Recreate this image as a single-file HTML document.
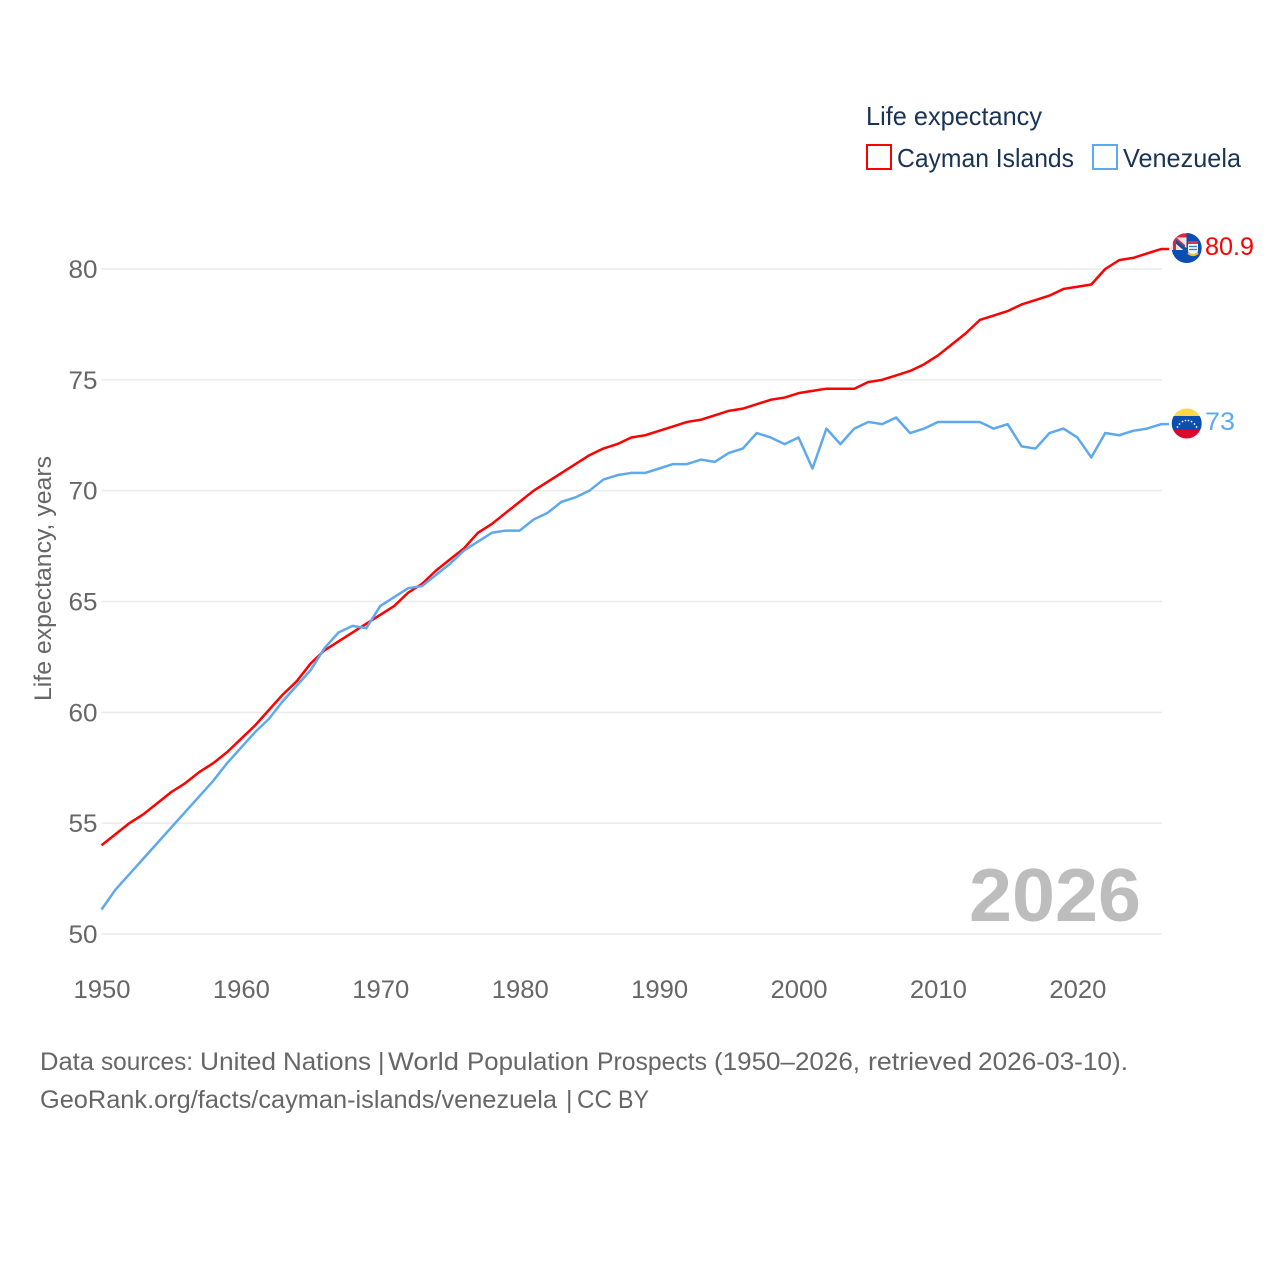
<!DOCTYPE html>
<html lang="en">
<head>
<meta charset="utf-8">
<title>Life expectancy: Cayman Islands and Venezuela</title>
<style>
html,body{margin:0;padding:0;background:#fff;width:1280px;height:1280px;overflow:hidden}
svg{display:block;font-family:"Liberation Sans",sans-serif}
</style>
</head>
<body>
<svg id="chart" xmlns="http://www.w3.org/2000/svg" width="1280" height="1280" viewBox="0 0 1280 1280">
  <defs>
    <clipPath id="flag-ky-clip"><circle cx="1186.700" cy="248" r="15"/></clipPath>
    <clipPath id="flag-ve-clip"><circle cx="1186.700" cy="423.500" r="15"/></clipPath>
  </defs>
  <rect x="0" y="0" width="1280" height="1280" fill="#fff"/>
  <g id="grid"></g>
  <g id="yticks"></g>
  <g id="xticks"></g>
  <text transform="translate(51,701) rotate(-90)" font-size="24" fill="#666" textLength="245" lengthAdjust="spacingAndGlyphs">Life expectancy, years</text>
  <text x="969" y="921" font-size="75" font-weight="700" fill="#bdbdbd" textLength="172" lengthAdjust="spacingAndGlyphs">2026</text>
  <g id="series"></g>

  <g>
    <text x="866" y="125" font-size="26" fill="#1a3354" textLength="176" lengthAdjust="spacingAndGlyphs">Life expectancy</text>
    <rect x="867" y="145" width="24" height="24" fill="#fff" stroke="#ff0000" stroke-width="2"/>
    <text x="897" y="167" font-size="26" fill="#1a3354" textLength="177" lengthAdjust="spacingAndGlyphs">Cayman Islands</text>
    <rect x="1093" y="145" width="24" height="24" fill="#fff" stroke="#5ea8ee" stroke-width="2"/>
    <text x="1123" y="167" font-size="26" fill="#1a3354" textLength="118" lengthAdjust="spacingAndGlyphs">Venezuela</text>
  </g>

  <g clip-path="url(#flag-ky-clip)">
    <rect x="1171" y="232" width="32" height="32" fill="#0a4fb0"/>
    <rect x="1171" y="232" width="15.500" height="18" fill="#f6e6ea"/>
    <path d="M1172 238 L1186 250" stroke="#1b4a9c" stroke-width="3.500"/>
    <path d="M1176 238 L1185 246" stroke="#e0243a" stroke-width="1.500"/>
    <path d="M1171 235.500 H1186.500" stroke="#e0243a" stroke-width="4"/>
    <path d="M1174.500 232 V250" stroke="#e0243a" stroke-width="3"/>
    <path d="M1188 241 h10 v9 q0 5 -5 6 q-5 -1 -5 -6 z" fill="#f4f4f4"/>
    <rect x="1188" y="241" width="10" height="3" fill="#d8344a"/>
    <path d="M1189 246.500 h8 M1189 249.500 h8" stroke="#3b78c4" stroke-width="1.300"/>
    <path d="M1188 253 q5 4 10 0" fill="none" stroke="#e8c23a" stroke-width="2.200"/>
  </g>
  <text x="1205" y="255" font-size="25" fill="#ff0000" textLength="49" lengthAdjust="spacingAndGlyphs">80.9</text>

  <g clip-path="url(#flag-ve-clip)">
    <rect x="1171" y="408" width="32" height="8" fill="#ffd84a"/>
    <rect x="1171" y="416" width="32" height="14" fill="#0a4fb0"/>
    <rect x="1171" y="430" width="32" height="10" fill="#d9082f"/>
    <g fill="#fff">
      <circle cx="1177.500" cy="427" r="0.900"/><circle cx="1179.500" cy="424" r="0.900"/>
      <circle cx="1182.500" cy="421.500" r="0.900"/><circle cx="1185.500" cy="420.500" r="0.900"/>
      <circle cx="1188.500" cy="420.500" r="0.900"/><circle cx="1191.500" cy="421.500" r="0.900"/>
      <circle cx="1194.500" cy="424" r="0.900"/><circle cx="1196.500" cy="427" r="0.900"/>
    </g>
  </g>
  <text x="1205" y="430" font-size="25" fill="#5ea8ee" textLength="30" lengthAdjust="spacingAndGlyphs">73</text>

  <text y="1070" font-size="25" fill="#666" lengthAdjust="spacingAndGlyphs"><tspan x="40" textLength="54" lengthAdjust="spacingAndGlyphs">Data</tspan> <tspan x="101" textLength="92" lengthAdjust="spacingAndGlyphs">sources:</tspan> <tspan x="200" textLength="76" lengthAdjust="spacingAndGlyphs">United</tspan> <tspan x="283" textLength="88" lengthAdjust="spacingAndGlyphs">Nations</tspan> <tspan x="378">|</tspan> <tspan x="388" textLength="71" lengthAdjust="spacingAndGlyphs">World</tspan> <tspan x="467" textLength="122" lengthAdjust="spacingAndGlyphs">Population</tspan> <tspan x="597" textLength="110" lengthAdjust="spacingAndGlyphs">Prospects</tspan> <tspan x="714" textLength="146" lengthAdjust="spacingAndGlyphs">(1950–2026,</tspan> <tspan x="868" textLength="104" lengthAdjust="spacingAndGlyphs">retrieved</tspan> <tspan x="978" textLength="150" lengthAdjust="spacingAndGlyphs">2026-03-10).</tspan></text>
  <text y="1108" font-size="25" fill="#666"><tspan x="40" textLength="517" lengthAdjust="spacingAndGlyphs">GeoRank.org/facts/cayman-islands/venezuela</tspan> <tspan x="566">|</tspan> <tspan x="577" textLength="35" lengthAdjust="spacingAndGlyphs">CC</tspan> <tspan x="618" textLength="31" lengthAdjust="spacingAndGlyphs">BY</tspan></text>
</svg>
<script>
const startYear = 1950;
const caymanIslands = [54.0,54.5,55.0,55.4,55.9,56.4,56.8,57.3,57.7,58.2,58.8,59.4,60.1,60.8,61.4,62.2,62.8,63.2,63.6,64.0,64.4,64.8,65.4,65.8,66.4,66.9,67.4,68.1,68.5,69.0,69.5,70.0,70.4,70.8,71.2,71.6,71.9,72.1,72.4,72.5,72.7,72.9,73.1,73.2,73.4,73.6,73.7,73.9,74.1,74.2,74.4,74.5,74.6,74.6,74.6,74.9,75.0,75.2,75.4,75.7,76.1,76.6,77.1,77.7,77.9,78.1,78.4,78.6,78.8,79.1,79.2,79.3,80.0,80.4,80.5,80.7,80.9];
const venezuela = [51.1,52.0,52.7,53.4,54.1,54.8,55.5,56.2,56.9,57.7,58.4,59.1,59.7,60.5,61.2,61.9,62.9,63.6,63.9,63.8,64.8,65.2,65.6,65.7,66.2,66.7,67.3,67.7,68.1,68.2,68.2,68.7,69.0,69.5,69.7,70.0,70.5,70.7,70.8,70.8,71.0,71.2,71.2,71.4,71.3,71.7,71.9,72.6,72.4,72.1,72.4,71.0,72.8,72.1,72.8,73.1,73.0,73.3,72.6,72.8,73.1,73.1,73.1,73.1,72.8,73.0,72.0,71.9,72.6,72.8,72.4,71.5,72.6,72.5,72.7,72.8,73.0];
const yTickLabels = [50,55,60,65,70,75,80];
const xTickLabels = [1950,1960,1970,1980,1990,2000,2010,2020];

const NS = 'http://www.w3.org/2000/svg';
const xScale = function (year) { return 101.5 + (year - 1950) * (1161 - 101.5) / 76; };
const yScale = function (value) { return 934 - (value - 50) * (934 - 269) / 30; };

const grid = document.getElementById('grid');
const yticks = document.getElementById('yticks');
const xticks = document.getElementById('xticks');
const seriesGroup = document.getElementById('series');

yTickLabels.forEach(function (tick) {
  const line = document.createElementNS(NS, 'line');
  
  
  line.setAttribute('x1', xScale(1950));
  line.setAttribute('x2', 1162);
  line.setAttribute('y1', yScale(tick));
  line.setAttribute('y2', yScale(tick));
  line.setAttribute('stroke', '#ebebeb');
  line.setAttribute('stroke-width', '1.5');
  grid.appendChild(line);

  const label = document.createElementNS(NS, 'text');
  
  
  label.setAttribute('x', 97.5);
  label.setAttribute('y', yScale(tick) + 9);
  label.setAttribute('text-anchor', 'end');
  label.setAttribute('font-size', '25');
  label.setAttribute('fill', '#666');
  label.setAttribute('textLength', '29');
  label.setAttribute('lengthAdjust', 'spacingAndGlyphs');
  label.textContent = tick;
  yticks.appendChild(label);
});

xTickLabels.forEach(function (tick) {
  const label = document.createElementNS(NS, 'text');
  
  
  label.setAttribute('x', xScale(tick) - 28);
  label.setAttribute('y', 998);
  label.setAttribute('font-size', '25');
  label.setAttribute('fill', '#666');
  label.setAttribute('textLength', '57');
  label.setAttribute('lengthAdjust', 'spacingAndGlyphs');
  label.textContent = tick;
  xticks.appendChild(label);
});

function drawSeries(values, color) {
  const pts = values.map(function (v, i) {
    return xScale(startYear + i).toFixed(2) + ',' + yScale(v).toFixed(2);
  });
  pts.push('1169,' + yScale(values[values.length - 1]).toFixed(2));
  const poly = document.createElementNS(NS, 'polyline');
  
  
  poly.setAttribute('points', pts.join(' '));
  poly.setAttribute('fill', 'none');
  poly.setAttribute('stroke', color);
  poly.setAttribute('stroke-width', '2.5');
  poly.setAttribute('stroke-linejoin', 'round');
  seriesGroup.appendChild(poly);
}
drawSeries(caymanIslands, '#ff0000');
drawSeries(venezuela, '#5ea8ee');
</script>
</body>
</html>
